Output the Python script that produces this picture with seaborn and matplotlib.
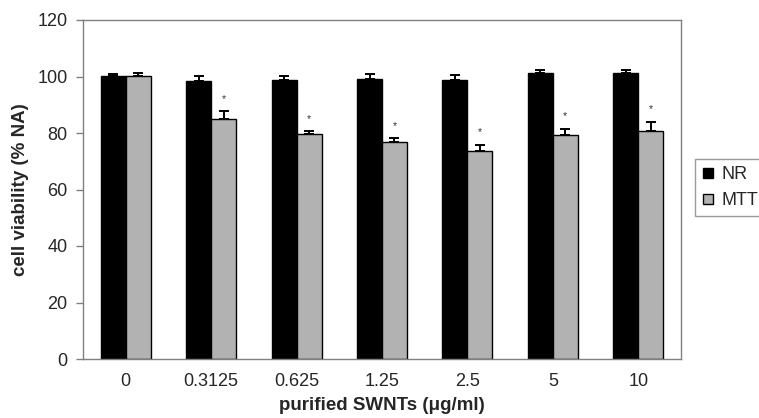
import matplotlib
matplotlib.use("Agg")
import matplotlib.pyplot as plt
from matplotlib.lines import Line2D
import seaborn as sns
import pandas as pd
import numpy as np

concentrations = ["0", "0.3125", "0.625", "1.25", "2.5", "5", "10"]
nr_values = [100.2, 98.3, 98.9, 99.2, 98.8, 101.1, 101.1]
nr_errors = [0.8, 1.8, 1.2, 1.8, 1.7, 1.3, 1.3]
mtt_values = [100.1, 84.8, 79.6, 76.8, 73.6, 79.2, 80.7]
mtt_errors = [1.3, 2.9, 1.1, 1.4, 2.2, 2.3, 3.3]
mtt_significant = [False, True, True, True, True, True, True]
assays = ["NR", "MTT"]
y_ticks = [0, 20, 40, 60, 80, 100, 120]

sns.set_theme(style="white")
plt.rcParams["font.family"] = ["Liberation Sans", "DejaVu Sans"]

df = pd.DataFrame({
    "conc": concentrations * 2,
    "viability": nr_values + mtt_values,
    "err": nr_errors + mtt_errors,
    "assay": [assays[0]] * len(concentrations) + [assays[1]] * len(concentrations),
})

fig = plt.figure(figsize=(7.59, 4.18), dpi=100)
ax = fig.add_axes([83 / 759, 1 - 359 / 418, (681 - 83) / 759, (359 - 20) / 418])

colors = ["#000000", "#b2b2b2"]
sns.barplot(data=df, x="conc", y="viability", hue="assay", order=concentrations,
            hue_order=assays, palette=colors, edgecolor="black", linewidth=1.0,
            width=0.585, errorbar=None, ax=ax, legend=False)

# error bars (upper only) from bar patches
patches = [p for p in ax.patches if p.get_height() > 0]
n = len(concentrations)
for i, p in enumerate(patches[:2 * n]):
    grp = i // n
    idx = i % n
    err = (nr_errors if grp == 0 else mtt_errors)[idx]
    xc = p.get_x() + p.get_width() / 2
    h = p.get_height()
    ax.errorbar(xc, h, yerr=[[0], [err]], fmt="none", ecolor="black",
                elinewidth=1.4, capsize=3.6, capthick=1.4, zorder=5)
    if grp == 1 and mtt_significant[idx]:
        ax.text(xc, h + err + 2.6, "*", ha="center", va="bottom",
                fontsize=7.5, color="#333333")

ax.set_ylim(0, 120)
ax.set_xlim(-0.5, n - 0.5)
ax.set_yticks(y_ticks)
ax.set_yticklabels([str(t) for t in y_ticks], fontsize=13)
ax.set_xticks(range(n))
ax.set_xticklabels(concentrations, fontsize=13)
ax.set_xticks(np.arange(-0.5, n, 1.0), minor=True)
ax.tick_params(axis="x", which="major", length=0, pad=10)
ax.tick_params(axis="x", which="minor", length=5, width=1, color="#808080", direction="out")
ax.tick_params(axis="y", which="major", length=5, width=1, color="#808080", direction="out", pad=6, left=True)

for s in ax.spines.values():
    s.set_color("#808080")
    s.set_linewidth(1.0)
    s.set_visible(True)

ax.set_ylabel("cell viability (% NA)", fontsize=13.5, fontweight="bold", labelpad=6)
ax.set_xlabel("purified SWNTs (\u03bcg/ml)", fontsize=13.5, fontweight="bold", labelpad=5)

handles = [Line2D([0], [0], marker="s", linestyle="none", markersize=7.5,
                  markerfacecolor=c, markeredgecolor="black", markeredgewidth=1.0)
           for c in colors]
leg = fig.legend(handles, assays, loc="upper left",
                 bbox_to_anchor=(695 / 759, 1 - 159 / 418),
                 frameon=True, fontsize=13, handlelength=0.6, handletextpad=0.45,
                 borderpad=0.4, labelspacing=0.5, fancybox=False, borderaxespad=0)
leg.get_frame().set_edgecolor("#808080")
leg.get_frame().set_linewidth(1.0)

fig.savefig("out.png", dpi=100)
